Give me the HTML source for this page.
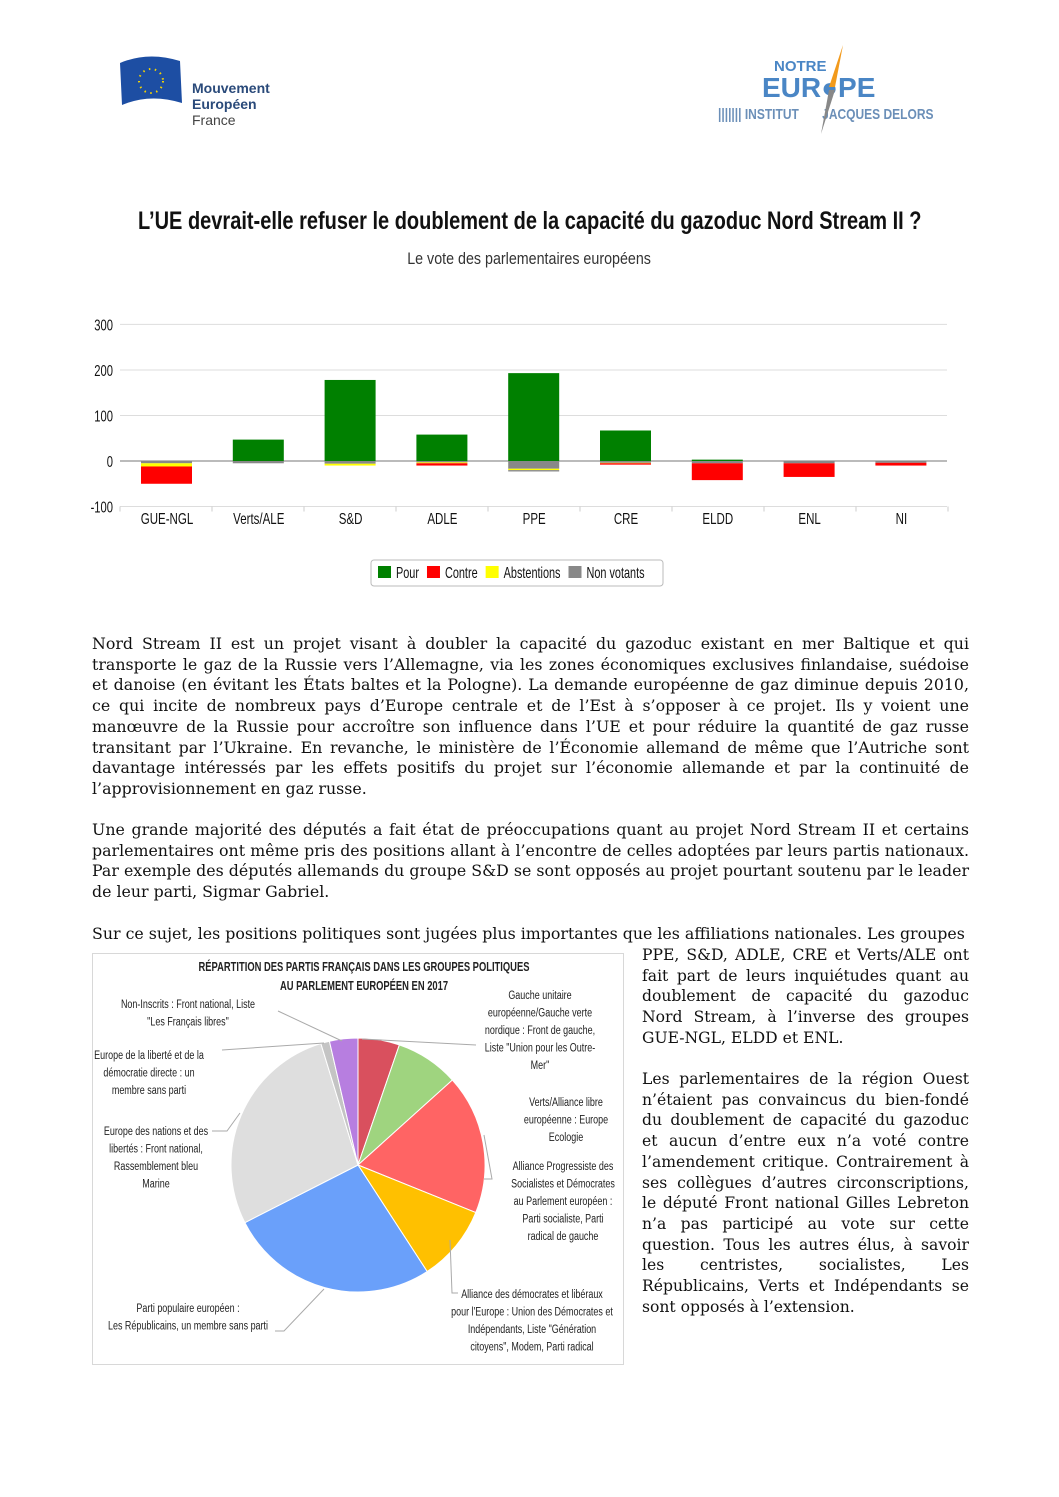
<!DOCTYPE html>
<html><head><meta charset="utf-8"><style>
body{margin:0;background:#fff;}
#pg{position:relative;width:1059px;height:1497px;overflow:hidden;font-family:"DejaVu Serif",serif;color:#111;}
.nar{font-family:"Liberation Sans",sans-serif;}
.p{position:absolute;left:92px;width:877px;font-size:15.8px;line-height:20.7px;text-align:justify;}
.pr{position:absolute;left:642px;width:327px;font-size:15.6px;line-height:20.7px;text-align:justify;}
.sx{display:inline-block;transform-origin:center;}
</style></head><body><div id="pg">
<svg style="position:absolute;left:118px;top:55px" width="70" height="55"><path d="M2 8 Q30 -4 62 6 L64 48 Q32 38 4 50 Z" fill="#1d4ea3"/><circle cx="33" cy="26" r="12" fill="none" stroke="#f5d300" stroke-width="2" stroke-dasharray="1.5 4.5"/></svg>
<div style="position:absolute;left:192px;top:80px;font:bold 14px 'Liberation Sans',sans-serif;color:#2a4a7a;line-height:16px">Mouvement<br>Européen<br><span style="font-weight:normal;color:#444">France</span></div>
<div class="nar" style="position:absolute;left:774px;top:58px;font-weight:bold;font-size:15px;color:#4a86c5">NOTRE</div>
<div class="nar" style="position:absolute;left:762px;top:72px;font-weight:bold;font-size:28px;color:#4a86c5">EUR&#9679;PE</div>
<div class="nar" style="position:absolute;left:718px;top:106px;font-weight:bold;font-size:15px;color:#6b8fb8;transform:scaleX(.8);transform-origin:left;white-space:nowrap">||||||| INSTITUT &nbsp;&nbsp;&nbsp;&nbsp;&nbsp; JACQUES DELORS</div>
<svg style="position:absolute;left:815px;top:42px" width="40" height="95"><polygon points="28,3 20,45 14,45" fill="#f29a1c"/><polygon points="14,48 20,48 6,92" fill="#888"/></svg>

<div class="nar" style="position:absolute;left:0;width:1059px;top:207px;text-align:center;font-weight:bold;font-size:25px;white-space:nowrap"><span class="sx" style="transform:scaleX(.8)">L’UE devrait-elle refuser le doublement de la capacité du gazoduc Nord Stream II ?</span></div>
<div class="nar" style="position:absolute;left:0;width:1059px;top:249px;text-align:center;font-size:17px;color:#333"><span class="sx" style="transform:scaleX(.84)">Le vote des parlementaires européens</span></div>

<svg style="position:absolute;left:0;top:300px" width="1059" height="300" id="bar" class="nar"></svg>

<div class="p" style="top:634px">Nord Stream II est un projet visant à doubler la capacité du gazoduc existant en mer Baltique et qui transporte le gaz de la Russie vers l’Allemagne, via les zones économiques exclusives finlandaise, suédoise et danoise (en évitant les États baltes et la Pologne). La demande européenne de gaz diminue depuis 2010, ce qui incite de nombreux pays d’Europe centrale et de l’Est à s’opposer à ce projet. Ils y voient une manœuvre de la Russie pour accroître son influence dans l’UE et pour réduire la quantité de gaz russe transitant par l’Ukraine. En revanche, le ministère de l’Économie allemand de même que l’Autriche sont davantage intéressés par les effets positifs du projet sur l’économie allemande et par la continuité de l’approvisionnement en gaz russe.</div>
<div class="p" style="top:820px">Une grande majorité des députés a fait état de préoccupations quant au projet Nord Stream II et certains parlementaires ont même pris des positions allant à l’encontre de celles adoptées par leurs partis nationaux. Par exemple des députés allemands du groupe S&amp;D se sont opposés au projet pourtant soutenu par le leader de leur parti, Sigmar Gabriel.</div>
<div class="p" style="top:924px;text-align:left;white-space:nowrap;letter-spacing:0px">Sur ce sujet, les positions politiques sont jugées plus importantes que les affiliations nationales. Les groupes</div>
<div class="pr" style="top:945px">PPE, S&amp;D, ADLE, CRE et Verts/ALE ont fait part de leurs inquiétudes quant au doublement de capacité du gazoduc Nord Stream, à l’inverse des groupes GUE-NGL, ELDD et ENL.</div>
<div class="pr" style="top:1069px">Les parlementaires de la région Ouest n’étaient pas convaincus du bien-fondé du doublement de capacité du gazoduc et aucun d’entre eux n’a voté contre l’amendement critique. Contrairement à ses collègues d’autres circonscriptions, le député Front national Gilles Lebreton n’a pas participé au vote sur cette question. Tous les autres élus, à savoir les centristes, socialistes, Les Républicains, Verts et Indépendants se sont opposés à l’extension.</div>

<div style="position:absolute;left:92px;top:953px;width:530px;height:410px;border:1px solid #d8d8d8"></div>
<svg style="position:absolute;left:92px;top:953px" width="532" height="412" id="pie" class="nar" font-size="11.5" fill="#222"></svg>
</div>
<script>
var ns="http://www.w3.org/2000/svg";
function el(p,t,a,txt){var e=document.createElementNS(ns,t);for(var k in a)e.setAttribute(k,a[k]);if(txt!=null)e.textContent=txt;p.appendChild(e);return e;}
function nar(t,f){var L=t.getComputedTextLength();t.setAttribute('textLength',L*f);t.setAttribute('lengthAdjust','spacingAndGlyphs');return L*f;}
var b=document.getElementById('bar');
function Y(v){return 161-v*0.4553;}
[300,200,100,0,-100].forEach(function(v){el(b,'line',{x1:120,x2:947,y1:Y(v),y2:Y(v),stroke:v==0?'#bbb':'#ddd','stroke-width':v==0?2:1});nar(el(b,'text',{x:113,y:Y(v)+6,'text-anchor':'end','font-size':16,fill:'#111'},v),0.7);});
for(var i=0;i<=9;i++)el(b,'line',{x1:120+i*92,x2:120+i*92,y1:Y(-100),y2:Y(-100)+5,stroke:'#ccc'});
var cats=['GUE-NGL','Verts/ALE','S&D','ADLE','PPE','CRE','ELDD','ENL','NI'];
var G='#008000',R='#ff0000',Yl='#ffff00',Gr='#888';
var data=[[[0,-5,Gr],[-5,-12,Yl],[-12,-50,R]],[[0,47,G],[0,-5,Gr]],[[0,178,G],[0,-6,Gr],[-6,-10,Yl]],[[0,58,G],[0,-3,Gr],[-3,-5,Yl],[-5,-10,R]],[[0,193,G],[0,-17,Gr],[-17,-20,Yl],[-20,-23,Gr]],[[0,67,G],[0,-4,Gr],[-4,-5,Yl],[-5,-8,R]],[[0,3,G],[0,-5,Gr],[-5,-42,R]],[[0,-5,Gr],[-5,-35,R]],[[0,-4,Gr],[-4,-10,R]]];
data.forEach(function(d,i){var x=141+i*91.8;d.forEach(function(s){var a=Y(s[0]),c=Y(s[1]);el(b,'rect',{x:x,width:51,y:Math.min(a,c),height:Math.abs(a-c),fill:s[2]});});
nar(el(b,'text',{x:x+26,y:224,'text-anchor':'middle','font-size':16,fill:'#111'},cats[i]),0.72);});
el(b,'rect',{x:371,y:260,width:292,height:26,rx:3,fill:'#fff',stroke:'#bbb'});
var lx=378;[['Pour',G],['Contre',R],['Abstentions',Yl],['Non votants',Gr]].forEach(function(l){el(b,'rect',{x:lx,y:266,width:13,height:12,fill:l[1]});var w=nar(el(b,'text',{x:lx+18,y:278,'font-size':16,fill:'#111'},l[0]),0.68);lx+=18+w+8;});
var p=document.getElementById('pie');var cx=266,cy=212,r=127;
var sl=[[0,19,'#d9505e'],[19,48,'#9fd47f'],[48,112,'#ff6464'],[112,147,'#ffc000'],[147,243,'#6aa0fa'],[243,343,'#dedede'],[343,347,'#c4c4c4'],[347,360,'#b77ee0']];
function pt(a){a=a*Math.PI/180;return [cx+r*Math.sin(a),cy-r*Math.cos(a)];}
sl.forEach(function(s){var a=pt(s[0]),c=pt(s[1]);el(p,'path',{d:'M'+cx+' '+cy+'L'+a[0]+' '+a[1]+'A'+r+' '+r+' 0 '+((s[1]-s[0])>180?1:0)+' 1 '+c[0]+' '+c[1]+'Z',fill:s[2],stroke:'#fff','stroke-width':1});});
nar(el(p,'text',{x:272,y:18,'text-anchor':'middle','font-weight':'bold','font-size':12.5},'RÉPARTITION DES PARTIS FRANÇAIS DANS LES GROUPES POLITIQUES'),0.75);
nar(el(p,'text',{x:272,y:37,'text-anchor':'middle','font-weight':'bold','font-size':12.5},'AU PARLEMENT EUROPÉEN EN 2017'),0.75);
function lab(x,y,lines){lines.forEach(function(t,i){nar(el(p,'text',{x:x,y:y+i*17.5,'text-anchor':'middle'},t),0.78);});}
lab(96,55,['Non-Inscrits : Front national, Liste','"Les Français libres"']);
lab(57,106,['Europe de la liberté et de la','démocratie directe : un','membre sans parti']);
lab(64,182,['Europe des nations et des','libertés : Front national,','Rassemblement bleu','Marine']);
lab(96,359,['Parti populaire européen :','Les Républicains, un membre sans parti']);
lab(448,46,['Gauche unitaire','européenne/Gauche verte','nordique : Front de gauche,','Liste "Union pour les Outre-','Mer"']);
lab(474,153,['Verts/Alliance libre','européenne : Europe','Ecologie']);
lab(471,217,['Alliance Progressiste des','Socialistes et Démocrates','au Parlement européen :','Parti socialiste, Parti','radical de gauche']);
lab(440,345,['Alliance des démocrates et libéraux','pour l\'Europe : Union des Démocrates et','Indépendants, Liste "Génération','citoyens", Modem, Parti radical']);
[[ [186,58],[250,88] ],[ [130,97],[232,90] ],[ [120,178],[135,178],[148,160] ],[ [183,378],[192,378],[232,336] ],[ [384,92],[270,86] ],[ [392,226],[400,226],[392,182] ],[ [366,340],[360,340],[358,287] ]].forEach(function(l){el(p,'polyline',{points:l.map(function(q){return q.join(',')}).join(' '),fill:'none',stroke:'#aaa','stroke-width':1});});
</script>
</body></html>
